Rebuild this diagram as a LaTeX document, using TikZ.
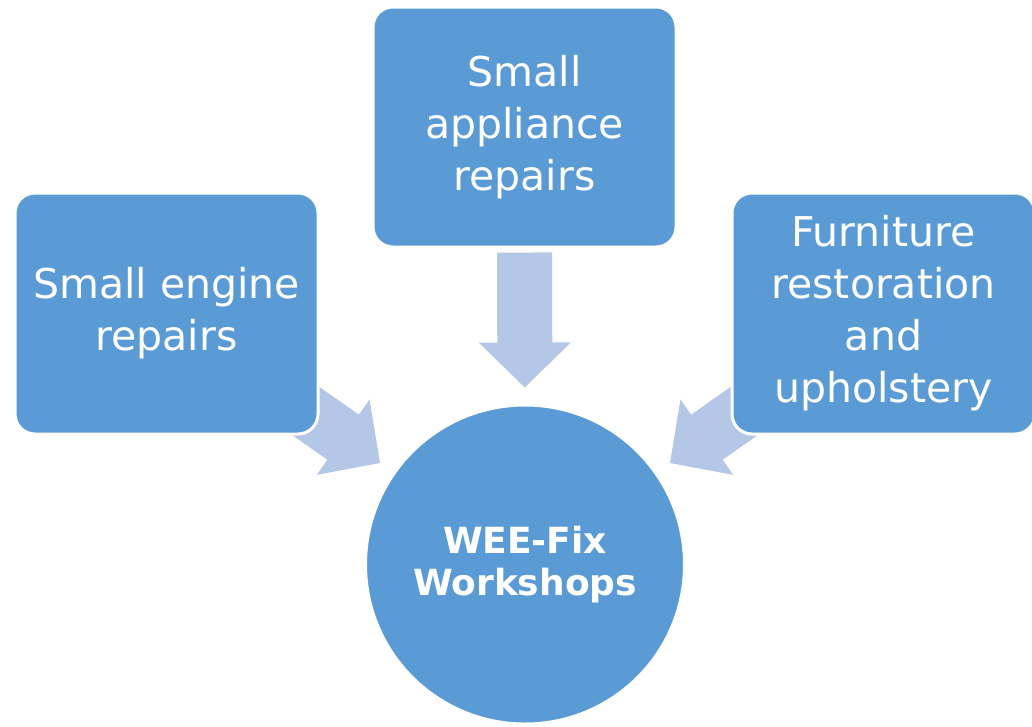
\documentclass[tikz,border=0pt]{standalone}
\usepackage{fontspec}
\setmainfont{DejaVu Sans}
\usetikzlibrary{calc}
\definecolor{boxblue}{HTML}{5B9BD5}
\definecolor{arrowblue}{HTML}{B4C7E7}
\tikzset{
  boxnode/.style={rectangle, rounded corners=20pt, fill=boxblue, draw=white, line width=3pt,
    minimum width=303pt, minimum height=241pt, text=white, align=center, inner sep=0pt,
    font=\fontsize{41}{52}\selectfont},
  hubnode/.style={circle, fill=boxblue, draw=white, line width=3pt, minimum size=319pt,
    text=white, align=center, inner sep=0pt, font=\bfseries\fontsize{36}{42}\selectfont},
  arrowfill/.style={fill=arrowblue}
}
\newcommand\blockarr[2]{%
  \fill[arrowfill] let \p1=($(#2.center)-(#1.center)$), \n1={atan2(\y1,\x1)} in
    ($(#1.center)+(\n1:177pt)$)
    -- ($(#1.center)+(\n1:222pt)+(\n1+90:46pt)$)
    -- ($(#1.center)+(\n1:222pt)+(\n1+90:27.5pt)$)
    -- ($(#1.center)+(\n1:312pt)+(\n1+90:27.5pt)$)
    -- ($(#1.center)+(\n1:312pt)+(\n1-90:27.5pt)$)
    -- ($(#1.center)+(\n1:222pt)+(\n1-90:27.5pt)$)
    -- ($(#1.center)+(\n1:222pt)+(\n1-90:46pt)$)
    -- cycle;}
\begin{document}
\begin{tikzpicture}[x=1pt,y=-1pt]
\useasboundingbox (0,0) rectangle (1032,726);
\coordinate (c) at (525,564.5);
\coordinate (lc) at (166.5,313.5);
\coordinate (tc) at (524.5,127);
\coordinate (rc) at (883.5,313.5);
\blockarr{c}{lc}
\blockarr{c}{tc}
\blockarr{c}{rc}
\node[boxnode] (l) at (lc) {Small engine\\repairs};
\node[boxnode, minimum height=240pt] (t) at (tc) {Small\\appliance\\repairs};
\node[boxnode] (r) at (rc) {Furniture\\restoration\\and\\upholstery};
\node[hubnode] (hub) at (c) {WEE-Fix\\Workshops};
\end{tikzpicture}
\end{document}
